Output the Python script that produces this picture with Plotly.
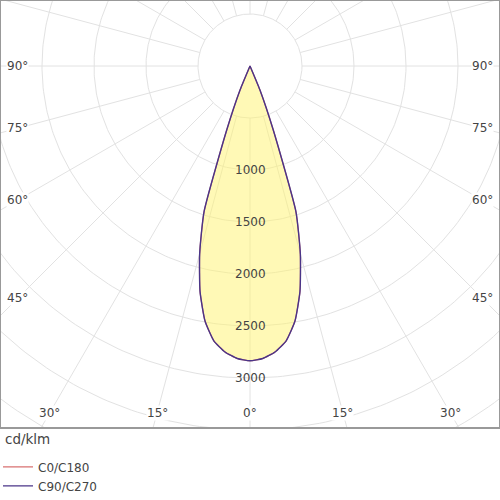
import numpy as np
import plotly.graph_objects as go

# luminous intensity (cd/klm) vs gamma angle, both planes
gamma = [0, 2.5, 5, 7.5, 10, 12.5, 15, 17.5, 20, 22.5, 25, 30, 45, 60, 75, 90]
c0_c180 = [2834, 2815, 2760, 2665, 2490, 2220, 1870, 1470, 650, 250, 0, 0, 0, 0, 0, 0]
c90_c270 = [2834, 2815, 2760, 2665, 2490, 2220, 1870, 1470, 650, 250, 0, 0, 0, 0, 0, 0]

ring_values = [1000, 1500, 2000, 2500, 3000]
side_angles = [45, 60, 75, 90]
bottom_angles = [0, 15, 30]

grey = "#e2e2e2"
txt = "#444444"
font = "DejaVu Sans"


def plane_xy(vals):
    # left half (C180 / C270) then right half (C0 / C90)
    g = np.radians(np.array(gamma, dtype=float))
    v = np.array(vals, dtype=float)
    g_all = np.concatenate([-g[::-1], g[1:]])
    v_all = np.concatenate([v[::-1], v[1:]])
    return v_all * np.sin(g_all), -v_all * np.cos(g_all)


fig = go.Figure()

# grid: circles every 500, spokes every 15 deg
t = np.linspace(0, 2 * np.pi, 361)
for r in range(500, 5001, 500):
    fig.add_trace(go.Scatter(x=r * np.cos(t), y=r * np.sin(t), mode="lines",
                             line=dict(color=grey, width=1), hoverinfo="skip", showlegend=False))
for a in range(0, 360, 15):
    ar = np.radians(a)
    fig.add_trace(go.Scatter(x=[500 * np.sin(ar), 5000 * np.sin(ar)],
                             y=[-500 * np.cos(ar), -5000 * np.cos(ar)], mode="lines",
                             line=dict(color=grey, width=1), hoverinfo="skip", showlegend=False))

# filled beam
fx, fy = plane_xy(c0_c180)
fig.add_trace(go.Scatter(x=fx, y=fy, mode="lines", fill="toself",
                         fillcolor="rgba(255,244,110,0.5)",
                         line=dict(width=0, shape="spline", smoothing=0.5),
                         hoverinfo="skip", showlegend=False))

x0, y0 = plane_xy(c0_c180)
fig.add_trace(go.Scatter(x=x0, y=y0, mode="lines", name="C0/C180",
                         line=dict(color="#d87070", width=1.2, shape="spline", smoothing=0.5)))
x9, y9 = plane_xy(c90_c270)
fig.add_trace(go.Scatter(x=x9, y=y9, mode="lines", name="C90/C270",
                         line=dict(color="#4a3588", width=1.4, shape="spline", smoothing=0.5)))

# ring labels
for v in ring_values:
    fig.add_annotation(x=0, y=-v, text=str(v), showarrow=False,
                       font=dict(family=font, size=12, color=txt))

# angle labels where the spokes meet an inset frame
for a in side_angles + bottom_angles:
    ar = np.radians(a)
    rr = min(2231 / np.sin(ar) if a else 1e9, 3337 / np.cos(ar) if a != 90 else 1e9)
    for s in ([-1, 1] if a else [1]):
        fig.add_annotation(x=s * rr * np.sin(ar), y=-rr * np.cos(ar), text=f"{a}°",
                           showarrow=False, bgcolor="white", borderpad=0,
                           font=dict(family=font, size=12, color=txt))

fig.add_shape(type="rect", xref="paper", yref="paper", x0=0, y0=0, x1=1, y1=1,
              line=dict(color="#999999", width=2))

fig.add_annotation(xref="paper", yref="paper", x=0.006, y=-11 / 428, xanchor="left",
                   yanchor="middle", text="cd/klm", showarrow=False,
                   font=dict(family=font, size=13.5, color=txt))

fig.update_xaxes(range=[-2403.8, 2403.8], visible=False)
fig.update_yaxes(range=[-3480.8, 634.6], visible=False)
fig.update_layout(
    width=500, height=500,
    margin=dict(l=0, r=0, t=0, b=72, autoexpand=False),
    plot_bgcolor="white", paper_bgcolor="white",
    showlegend=True,
    legend=dict(x=-0.004, y=-0.057, xanchor="left", yanchor="top", itemwidth=30,
                font=dict(family=font, size=12, color=txt), tracegroupgap=0,
                bgcolor="rgba(0,0,0,0)"),
)

fig.write_html("out.html", config={"displayModeBar": False},
               post_script="document.body.style.margin='0';")
